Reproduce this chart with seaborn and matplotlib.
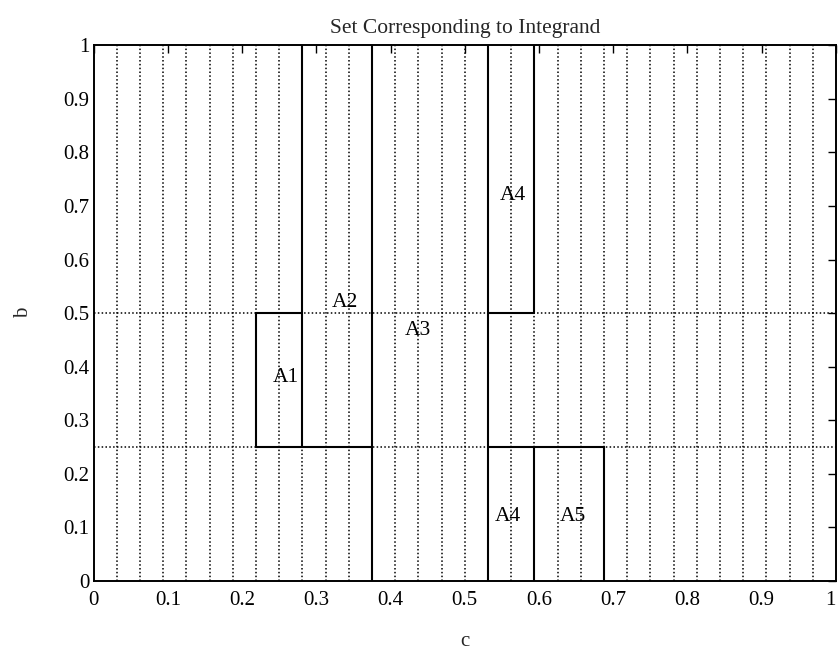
import numpy as np
import pandas as pd
import matplotlib
matplotlib.use("Agg")
import matplotlib.pyplot as plt
import seaborn as sns

# Partition of the unit square: c split into 32 strips, b split at 1/4 and 1/2
n_strips = 32
b_levels = [0.25, 0.5]

# Solid boundaries of the regions (c0, c1, b0, b1), c in units of 1/32
seg_c0 = [7, 9, 12, 17, 19, 19, 22, 7, 17, 7, 17]
seg_c1 = [7, 9, 12, 17, 19, 19, 22, 9, 19, 12, 22]
seg_b0 = [0.25, 0.25, 0.0, 0.0, 0.5, 0.0, 0.0, 0.5, 0.5, 0.25, 0.25]
seg_b1 = [0.5, 1.0, 1.0, 1.0, 1.0, 0.25, 0.25, 0.5, 0.5, 0.25, 0.25]

# Region labels and their positions
region_names = ["A1", "A2", "A3", "A4", "A4", "A5"]
region_c = [0.259, 0.339, 0.437, 0.565, 0.558, 0.646]
region_b = [0.38, 0.52, 0.468, 0.72, 0.12, 0.12]

tick_vals = [0, 0.1, 0.2, 0.3, 0.4, 0.5, 0.6, 0.7, 0.8, 0.9, 1]
tick_text = ["0", "0.1", "0.2", "0.3", "0.4", "0.5", "0.6", "0.7", "0.8", "0.9", "1"]

sns.set_theme(style="white")
plt.rcParams["font.family"] = ["Liberation Serif", "DejaVu Serif"]

fig = plt.figure(figsize=(8.38, 6.55), dpi=100)
ax = fig.add_axes([0.1116, 0.113, 0.886, 0.818])

# dotted partition grid
dot = (0, (1.0, 1.5))
for k in range(1, n_strips):
    ax.axvline(k / n_strips, color="black", lw=1.1, linestyle=dot, zorder=1)
for b in b_levels:
    ax.axhline(b, color="black", lw=1.1, linestyle=dot, zorder=1)

# solid region boundaries
rows = []
for i, (c0, c1, b0, b1) in enumerate(zip(seg_c0, seg_c1, seg_b0, seg_b1)):
    rows.append({"seg": i, "c": c0 / n_strips, "b": b0})
    rows.append({"seg": i, "c": c1 / n_strips, "b": b1})
segs = pd.DataFrame(rows)
sns.lineplot(data=segs, x="c", y="b", units="seg", estimator=None, sort=False,
             color="black", lw=1.5, ax=ax, legend=False, zorder=2)

for name, c, b in zip(region_names, region_c, region_b):
    ax.text(c, b, name, ha="center", va="center", fontsize=15.5, color="black")

ax.set_xlim(0, 1)
ax.set_ylim(0, 1)
ax.set_xticks(tick_vals)
ax.set_xticklabels(tick_text)
ax.set_yticks(tick_vals)
ax.set_yticklabels(tick_text)
ax.tick_params(axis="both", direction="in", length=5.5, width=1, labelsize=15,
               colors="black", top=True, right=True)
ax.tick_params(axis="x", pad=7)
ax.tick_params(axis="y", pad=3)
# keep the last c label inside the figure
ax.get_xticklabels()[-1].set_horizontalalignment("right")
for sp in ax.spines.values():
    sp.set_color("black")
    sp.set_linewidth(1.4)

ax.set_title("Set Corresponding to Integrand", fontsize=15.5, pad=9)
ax.set_xlabel("c", fontsize=15, labelpad=16)
ax.set_ylabel("b", fontsize=15, labelpad=22)

fig.savefig("out.png", dpi=100)
